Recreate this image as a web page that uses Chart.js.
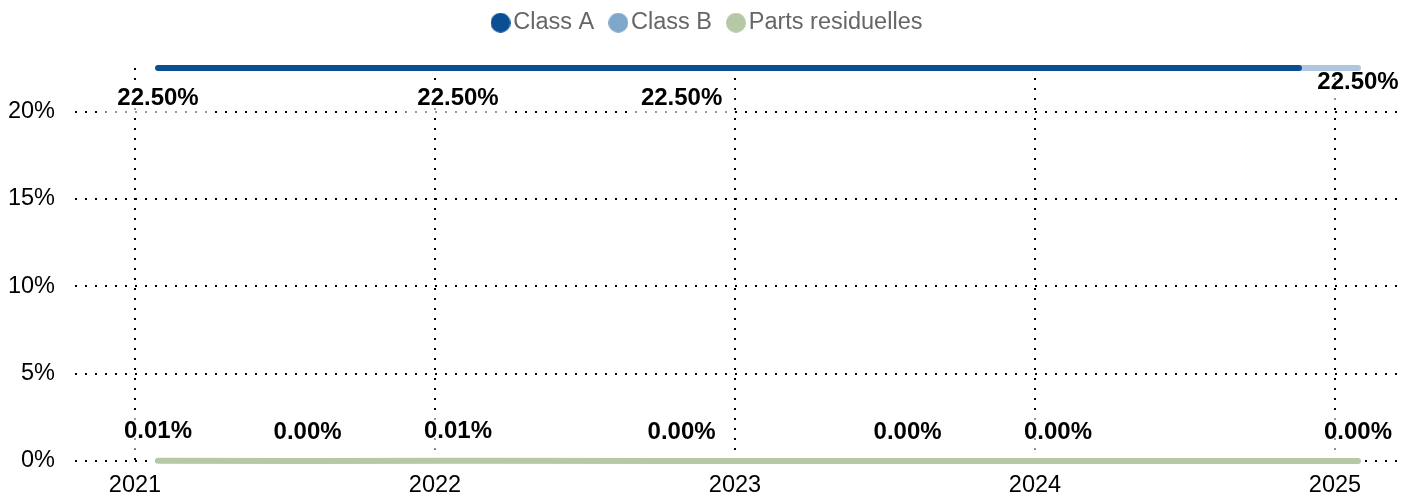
<!DOCTYPE html>
<html>
<head>
<meta charset="utf-8">
<script src="https://cdn.jsdelivr.net/npm/chart.js@4.4.1/dist/chart.umd.min.js"></script>
<style>
  html, body { margin: 0; padding: 0; background: #fff; }
  #wrap { width: 1418px; height: 495px; position: relative; }
</style>
</head>
<body>
<div id="wrap"><canvas id="c"></canvas></div>
<script>
// ---- data ----
const seriesNames = ['Class A', 'Class B', 'Parts residuelles'];
const classADates = ['2021-01-29', '2022-01-29', '2022-10-28', '2024-11-18'];
const classAValues = [22.5, 22.5, 22.5, 22.5];
const classALabelled = [true, true, true, false];
const classBDates = ['2024-11-18', '2025-01-29'];
const classBValues = [22.5, 22.5];
const classBLabelled = [false, true];
const residualDates = ['2021-01-29', '2021-07-30', '2022-01-29', '2022-10-28', '2023-07-30', '2024-01-29', '2025-01-29'];
const residualValues = [0.01, 0.00, 0.01, 0.00, 0.00, 0.00, 0.00];
const residualLabelled = [true, true, true, true, true, true, true];
const xTickYears = [2021, 2022, 2023, 2024, 2025];
const yTickValues = [0, 5, 10, 15, 20];

// ---- helpers ----
function toYear(s) {
  const d = new Date(s + 'T00:00:00Z');
  const y = d.getUTCFullYear();
  const start = Date.UTC(y, 0, 1);
  const end = Date.UTC(y + 1, 0, 1);
  return y + (d.getTime() - start) / (end - start);
}
function pts(dates, values) {
  return dates.map((d, i) => ({ x: toYear(d), y: values[i] }));
}
function dot(color) {
  const c = document.createElement('canvas');
  c.width = 20; c.height = 20;
  const g = c.getContext('2d');
  g.fillStyle = color;
  g.beginPath();
  g.arc(10, 10, 10, 0, Math.PI * 2);
  g.fill();
  return c;
}

const FONT = '"Liberation Sans", Arial, sans-serif';
const LABEL_FONT = 'bold 24px ' + FONT;
const legendColors = ['#0b4f93', '#7ea7ca', '#b5c9a6'];
const legendDots = legendColors.map(dot);

function eachLabel(chart, fn) {
  chart.data.datasets.forEach((ds, di) => {
    const meta = chart.getDatasetMeta(di);
    meta.data.forEach((el, i) => {
      if (!ds.labelled[i]) return;
      fn(ds.data[i].y.toFixed(2) + '%', el.x, el.y + ds.labelOffsetY);
    });
  });
}

const pointLabels = {
  id: 'pointLabels',
  beforeDatasetsDraw(chart) {
    const ctx = chart.ctx;
    ctx.save();
    ctx.font = LABEL_FONT;
    ctx.fillStyle = 'rgba(255,255,255,0.6)';
    eachLabel(chart, (txt, x, y) => {
      const w = ctx.measureText(txt).width;
      ctx.fillRect(x - w / 2 - 12, y - 18, w + 24, 36);
    });
    ctx.restore();
  },
  afterDatasetsDraw(chart) {
    const ctx = chart.ctx;
    ctx.save();
    ctx.font = LABEL_FONT;
    ctx.textAlign = 'center';
    ctx.textBaseline = 'middle';
    ctx.fillStyle = '#000';
    eachLabel(chart, (txt, x, y) => ctx.fillText(txt, x, y));
    ctx.restore();
  }
};

const legendTweak = {
  id: 'legendTweak',
  beforeInit(chart) {
    const lg = chart.legend;
    const origFit = lg.fit;
    lg.fit = function () {
      origFit.call(this);
      this.height = 82;
    };
    const origDraw = lg.draw;
    lg.draw = function () {
      const ctx = this.ctx;
      ctx.save();
      ctx.translate(12, 2);
      origDraw.apply(this, arguments);
      ctx.restore();
    };
  }
};

const gridCommon = {
  color: '#000',
  lineWidth: 2,
  drawTicks: false
};

new Chart(document.getElementById('c'), {
  type: 'line',
  data: {
    datasets: [
      {
        label: seriesNames[0],
        data: pts(classADates, classAValues),
        labelled: classALabelled,
        labelOffsetY: 30,
        borderColor: '#0b4f93',
        backgroundColor: '#0b4f93',
        borderWidth: 6,
        borderCapStyle: 'round',
        pointRadius: 0,
        clip: false
      },
      {
        label: seriesNames[1],
        data: pts(classBDates, classBValues),
        labelled: classBLabelled,
        labelOffsetY: 14,
        borderColor: '#adc7df',
        backgroundColor: '#7ea7ca',
        borderWidth: 6,
        borderCapStyle: 'round',
        pointRadius: 0,
        clip: false
      },
      {
        label: seriesNames[2],
        data: pts(residualDates, residualValues),
        labelled: residualLabelled,
        labelOffsetY: -29,
        borderColor: '#b5c9a6',
        backgroundColor: '#b5c9a6',
        borderWidth: 6,
        borderCapStyle: 'round',
        pointRadius: 0,
        clip: false
      }
    ]
  },
  options: {
    responsive: true,
    maintainAspectRatio: false,
    animation: false,
    layout: { padding: { left: 0, right: 20, top: -14, bottom: 0 } },
    plugins: {
      legend: {
        position: 'top',
        labels: {
          usePointStyle: true,
          pointStyleWidth: 2,
          boxHeight: 14,
          padding: 23,
          color: '#666',
          font: { size: 23.5, family: FONT },
          generateLabels(chart) {
            const items = Chart.defaults.plugins.legend.labels.generateLabels(chart);
            items.forEach((it, i) => {
              it.fillStyle = legendColors[i];
              it.strokeStyle = legendColors[i];
              it.lineWidth = 0;
              it.pointStyle = legendDots[i];
            });
            return items;
          }
        }
      },
      tooltip: { enabled: false }
    },
    scales: {
      x: {
        type: 'linear',
        min: 2020.8,
        max: 2025.21,
        border: { display: false, dash: [2, 8] },
        grid: gridCommon,
        afterBuildTicks(scale) { scale.ticks = xTickYears.map(v => ({ value: v })); },
        afterFit(scale) { scale.height = 34; },
        ticks: {
          padding: 11,
          color: '#000',
          font: { size: 23.5, family: FONT },
          callback: v => String(v),
          maxRotation: 0
        }
      },
      y: {
        min: 0,
        max: 22.5,
        border: { display: false, dash: [2, 8] },
        grid: gridCommon,
        afterBuildTicks(scale) { scale.ticks = yTickValues.map(v => ({ value: v })); },
        afterFit(scale) { scale.width = 75; },
        ticks: {
          padding: 20,
          color: '#000',
          font: { size: 23.5, family: FONT },
          callback: v => v + '%'
        }
      }
    }
  },
  plugins: [pointLabels, legendTweak]
});
</script>
</body>
</html>
